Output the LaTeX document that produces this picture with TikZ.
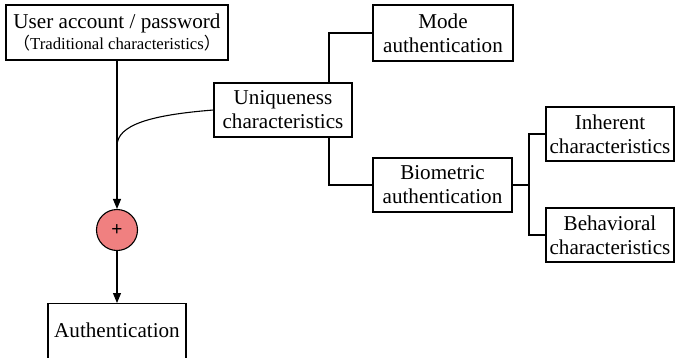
\documentclass[tikz,border=0pt]{standalone}
\usepackage{fontspec}
\setmainfont{Liberation Serif}
\newfontfamily\cjk{Noto Sans CJK SC}
\newfontfamily\plusfont{Liberation Sans}
\usetikzlibrary{arrows.meta}
\begin{document}
\begin{tikzpicture}[x=1bp,y=-1bp,
  box/.style={draw,line width=1.1bp,inner sep=0pt,align=center,font=\fontsize{21.2}{24}\selectfont},
  link/.style={line width=1.1bp},
  arr/.style={line width=1.1bp,-{Triangle[length=10bp,width=8bp]}}]
\useasboundingbox (0,0) rectangle (675,357);
\node[box,minimum width=222bp,minimum height=55bp] (user) at (117,32.5)
  {User account / password\\[-2bp]{\fontsize{16.8}{18}\selectfont{\cjk（}Traditional characteristics{\cjk）}}};
\node[box,minimum width=138bp,minimum height=54bp] (uniq) at (283,110) {Uniqueness\\characteristics};
\node[box,minimum width=140bp,minimum height=56bp] (mode) at (443,33) {Mode\\authentication};
\node[box,minimum width=139bp,minimum height=54bp] (bio) at (442.5,185) {Biometric\\authentication};
\node[box,minimum width=128bp,minimum height=54bp] (inh) at (610,134) {Inherent\\characteristics};
\node[box,minimum width=128bp,minimum height=54bp] (beh) at (610,235) {Behavioral\\characteristics};
\node[draw,line width=1.1bp,circle,fill={rgb,255:red,240;green,128;blue,128},minimum size=41bp,inner sep=0pt,font=\plusfont\fontsize{19}{19}\selectfont] (plus) at (117,230) {+};
\node[box,minimum width=138bp,minimum height=60bp,anchor=north] (auth) at (117,303) {};
\node[font=\fontsize{21.2}{24}\selectfont] (authtext) at (117,330) {Authentication};
\coordinate (j) at (117,146);
\draw[arr] (user.south) -- (plus.north);
\draw[link] (uniq.west) .. controls (150,115) and (117,125) .. (j);
\draw[arr] (plus.south) -- (auth.north);
\draw[link] (uniq.north -| 329,0) |- (mode.west);
\draw[link] (uniq.south -| 329,0) |- (bio.west);
\coordinate (b) at (529,185);
\draw[link] (bio.east) -- (b);
\draw[link] (b) |- (inh.west);
\draw[link] (b) |- (beh.west);
\end{tikzpicture}
\end{document}
